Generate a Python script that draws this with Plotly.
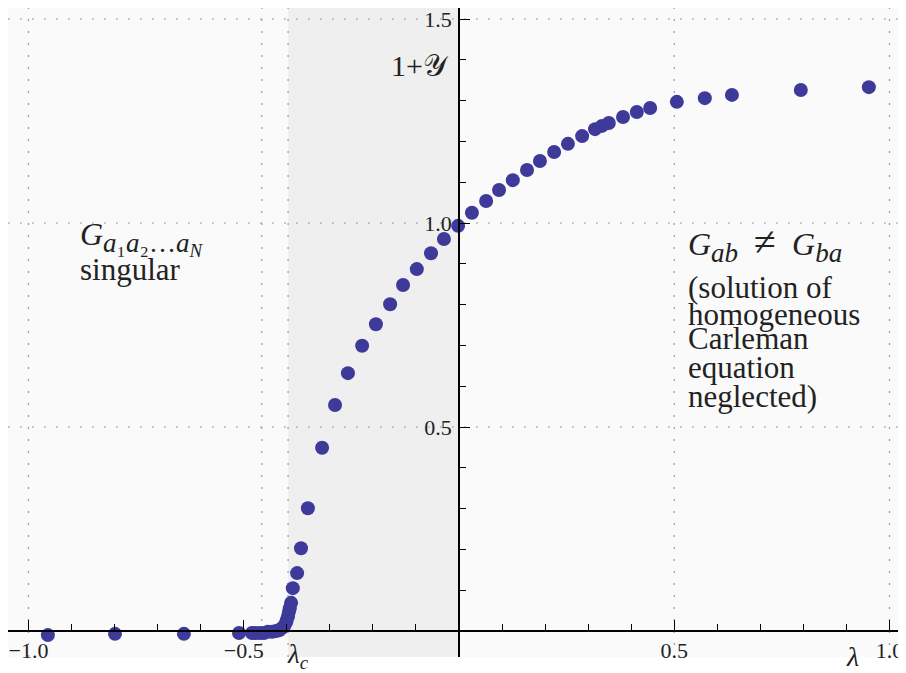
import plotly.graph_objects as go

# ---- data ----
lam = [-0.955, -0.799, -0.639, -0.511,
       -0.481, -0.472, -0.462, -0.453, -0.444, -0.434, -0.425, -0.418, -0.411,
       -0.406, -0.402, -0.400, -0.397, -0.395, -0.393, -0.390, -0.386, -0.376,
       -0.367, -0.351, -0.318, -0.288, -0.258, -0.225, -0.193, -0.160, -0.130,
       -0.098, -0.065, -0.035, -0.002, 0.030, 0.063, 0.093, 0.125, 0.158,
       0.188, 0.221, 0.253, 0.286, 0.316, 0.332, 0.348, 0.381, 0.413, 0.444,
       0.506, 0.571, 0.634, 0.794, 0.952]
yval = [-0.010, -0.007, -0.007, -0.005,
        -0.005, -0.005, -0.005, -0.005, -0.002, -0.002, 0.000, 0.002, 0.007,
        0.012, 0.020, 0.027, 0.037, 0.047, 0.056, 0.069, 0.105, 0.142,
        0.203, 0.301, 0.449, 0.554, 0.632, 0.699, 0.752, 0.801, 0.848,
        0.887, 0.926, 0.961, 0.993, 1.025, 1.054, 1.081, 1.105, 1.130,
        1.152, 1.174, 1.194, 1.213, 1.230, 1.238, 1.245, 1.260, 1.272, 1.282,
        1.297, 1.306, 1.314, 1.326, 1.333]

lam_c = -0.397
x_ticks = [-1.0, -0.5, 0.5, 1.0]
y_ticks = [0.5, 1.0, 1.5]
x_grid = [-1.0, -0.458, lam_c, 0.5, 1.0]
y_grid = [0.5, 1.0, 1.5]

XR = [-1.0476, 1.0383]
YR = [-0.0637, 1.527]

SERIF = "Liberation Serif, DejaVu Serif, serif"
MARK = "rgb(61,58,154)"

fig = go.Figure()
fig.add_trace(go.Scatter(x=lam, y=yval, mode="markers",
                         marker=dict(size=14, color=MARK, line=dict(width=0)),
                         cliponaxis=False, showlegend=False))

shapes = [dict(type="rect", xref="x", yref="paper", x0=lam_c, x1=0, y0=0, y1=1,
               fillcolor="#efefef", line=dict(width=0), layer="below")]
for gx in x_grid:
    shapes.append(dict(type="line", xref="x", yref="paper", x0=gx, x1=gx, y0=0, y1=1,
                       line=dict(color="#999999", width=1.2, dash="2px,10px"), layer="below"))
for gy in y_grid:
    shapes.append(dict(type="line", xref="paper", yref="y", x0=0, x1=1, y0=gy, y1=gy,
                       line=dict(color="#999999", width=1.2, dash="2px,10px"), layer="below"))

def ann(text, x, y, size=31, xanchor="left", yanchor="middle", yshift=0):
    return dict(text=text, x=x, y=y, xref="x", yref="y", showarrow=False,
                xanchor=xanchor, yanchor=yanchor, yshift=yshift,
                font=dict(family=SERIF, size=size, color="#222222"))

SUB = '<span style="font-size:27px">'
NEQ = '\u2002<span style="font-size:40px">≠</span>\u2002'
annotations = [
    ann("<i>G</i><sub>" + SUB + "<i>a</i>₁<i>a</i>₂…<i>a<sub>N</sub></i></span></sub>",
        -0.885, 0.962, size=32),
    ann("singular", -0.885, 0.885),
    ann("<i>G</i><sub>" + SUB + "<i>ab</i></span></sub>" + NEQ + "<i>G</i><sub>" + SUB
        + "<i>ba</i></span></sub>", 0.527, 0.950, size=32),
    ann("(solution of", 0.527, 0.843),
    ann("homogeneous", 0.527, 0.775),
    ann("Carleman", 0.527, 0.718),
    ann("equation", 0.527, 0.645),
    ann("neglected)", 0.527, 0.574),
    ann("1+𝒴", -0.018, 1.385, size=30, xanchor="right"),
    ann("<i>λ</i><sub><i>c</i></sub>", -0.405, -0.06, size=27, yshift=-1),
    ann("<i>λ</i>", 0.915, -0.06, size=28, xanchor="center", yshift=-1),
]

# the page body adds an 8px offset, so the figure is 8px smaller on each axis
fig.update_layout(
    width=898, height=665,
    margin=dict(l=0, r=0, t=0, b=16),
    paper_bgcolor="white", plot_bgcolor="#fafafa",
    shapes=shapes, annotations=annotations,
    xaxis=dict(range=XR, showgrid=False, zeroline=False, automargin=False,
               anchor="free", position=(0 - YR[0]) / (YR[1] - YR[0]),
               showline=True, linecolor="black", linewidth=1.5,
               tickmode="array", tickvals=x_ticks,
               ticktext=[f"{v:.1f}".replace("-", "−") for v in x_ticks],
               ticks="inside", ticklen=10, tickwidth=1.3, tickcolor="black",
               ticklabelstandoff=0, ticklabeloverflow="allow",
               tickfont=dict(family=SERIF, size=22, color="#222222"),
               minor=dict(tickmode="linear", tick0=0, dtick=0.1, ticks="inside",
                          ticklen=6, tickwidth=1.1, tickcolor="black", showgrid=False)),
    yaxis=dict(range=YR, showgrid=False, zeroline=False, automargin=False,
               anchor="free", position=(0 - XR[0]) / (XR[1] - XR[0]), side="left",
               showline=True, linecolor="black", linewidth=1.5,
               tickmode="array", tickvals=y_ticks,
               ticktext=[f"{v:.1f}" for v in y_ticks],
               ticks="inside", ticklen=10, tickwidth=1.3, tickcolor="black",
               ticklabelstandoff=2, ticklabeloverflow="allow",
               tickfont=dict(family=SERIF, size=22, color="#222222"),
               minor=dict(tickmode="linear", tick0=0, dtick=0.1, ticks="inside",
                          ticklen=6, tickwidth=1.1, tickcolor="black", showgrid=False)),
)

fig.write_html("out.html")
